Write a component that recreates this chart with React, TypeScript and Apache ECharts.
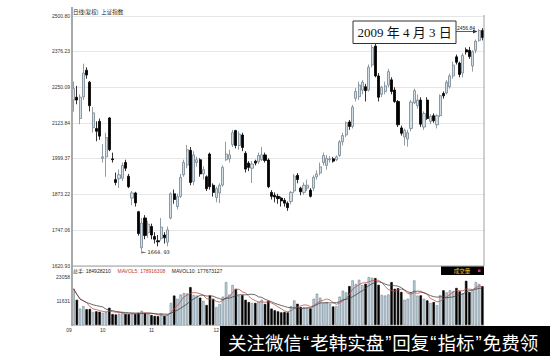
import React, { useEffect, useRef } from "react";
import * as echarts from "echarts";

const dates = (
  "09-23 09-24 09-25 09-26 " +
  "10-06 10-07 10-08 10-09 10-10 10-13 10-14 10-15 10-16 10-17 10-20 10-21 10-22 10-23 10-24 10-27 10-28 10-29 10-30 10-31 " +
  "11-03 11-04 11-05 11-06 11-07 11-10 11-11 11-12 11-13 11-14 11-17 11-18 11-19 11-20 11-21 11-24 11-25 11-26 11-27 11-28 " +
  "12-01 12-02 12-03 12-04 12-05 12-08 12-09 12-10 12-11 12-12 12-15 12-16 12-17 12-18 12-19 12-22 12-23 12-24 12-25 12-26 12-29 12-30 12-31 " +
  "01-05 01-06 01-07 01-08 01-09 01-12 01-13 01-14 01-15 01-16 01-19 01-20 01-21 01-22 01-23 " +
  "02-02 02-03 02-04 02-05 02-06 02-09 02-10 02-11 02-12 02-13 02-16 02-17 02-18 02-19 02-20 02-23 02-24 02-25 02-26 02-27 " +
  "03-02 03-03 03-04 03-05 03-06 03-09 03-10 03-11 03-12 03-13 03-16 03-17 03-18 03-19 03-20 03-23 03-24 03-25 03-26 03-27 03-30 03-31 " +
  "04-01 04-02 04-03"
).split(" ");

const openP = [
  2205, 2215, 2140, 2216, 2310, 2268, 2108, 2105, 2130, 2000,
  2005, 2142, 1998, 1925, 1928, 1930, 1985, 1937, 1860, 1878,
  1812, 1685, 1790, 1738, 1760, 1725, 1710, 1718, 1730, 1705,
  1790, 1875, 1830, 1866, 1942, 1976, 2028, 1918, 1985, 1995,
  1945, 1935, 2015, 1905, 1862, 1878, 1906, 1995, 1998, 2048,
  2098, 2045, 2082, 2018, 1983, 1965, 1990, 1988, 1995, 2012,
  1994, 1880, 1870, 1866, 1860, 1852, 1842, 1848, 1885, 1940,
  1895, 1880, 1895, 1888, 1895, 1935, 1948, 1985, 1975, 1995,
  1998, 1995, 2010, 2058, 2082, 2128, 2112, 2211, 2217, 2240,
  2252, 2240, 2328, 2395, 2290, 2225, 2235, 2258, 2276, 2240,
  2200, 2107, 2075, 2068, 2105, 2195, 2185, 2205, 2110, 2205,
  2130, 2150, 2118, 2150, 2228, 2230, 2252, 2290, 2357, 2335,
  2300, 2382, 2380, 2325, 2380, 2415, 2450,
];
const closeP = [
  2246, 2205, 2215, 2300, 2293, 2185, 2160, 2095, 2078, 2005,
  2073, 2030, 1995, 1915, 1942, 1975, 1965, 1900, 1878, 1843,
  1735, 1772, 1728, 1768, 1730, 1715, 1706, 1758, 1720, 1748,
  1875, 1855, 1865, 1933, 1985, 2030, 1915, 2012, 1995, 1945,
  1960, 1893, 1900, 1880, 1893, 1905, 1968, 2015, 2012, 2090,
  2045, 2085, 2038, 1962, 1968, 1980, 1983, 2010, 2012, 1992,
  1900, 1866, 1864, 1858, 1850, 1842, 1826, 1880, 1937, 1925,
  1882, 1905, 1905, 1866, 1933, 1945, 1970, 2010, 2000, 1998,
  1990, 2005, 2058, 2080, 2125, 2112, 2180, 2235, 2258, 2268,
  2238, 2320, 2390, 2290, 2215, 2250, 2255, 2305, 2235, 2200,
  2118, 2088, 2098, 2090, 2198, 2238, 2205, 2120, 2158, 2140,
  2148, 2132, 2150, 2220, 2220, 2268, 2290, 2328, 2338, 2295,
  2362, 2374, 2358, 2375, 2412, 2450, 2425,
];
const lowP = [
  2164, 2190, 2120, 2205, 2280, 2165, 2090, 2060, 2065, 1985,
  1935, 2025, 1985, 1905, 1895, 1920, 1955, 1895, 1835, 1830,
  1728, 1664.93, 1715, 1720, 1715, 1700, 1690, 1710, 1700, 1690,
  1785, 1840, 1820, 1860, 1935, 1965, 1905, 1905, 1970, 1935,
  1925, 1885, 1890, 1865, 1845, 1842, 1900, 1990, 1985, 2040,
  2035, 2030, 2025, 1950, 1955, 1913, 1975, 1980, 1990, 1985,
  1895, 1855, 1845, 1840, 1830, 1830, 1815, 1838, 1878, 1912,
  1870, 1872, 1885, 1862, 1885, 1925, 1940, 1975, 1960, 1985,
  1985, 1990, 2005, 2045, 2075, 2100, 2105, 2200, 2205, 2225,
  2200, 2235, 2320, 2285, 2200, 2215, 2225, 2250, 2225, 2195,
  2110, 2080, 2045, 2041, 2095, 2190, 2175, 2110, 2100, 2135,
  2120, 2125, 2105, 2145, 2210, 2225, 2245, 2280, 2330, 2285,
  2285, 2365, 2350, 2305, 2370, 2410, 2415,
];
const highP = [
  2270, 2255, 2225, 2333, 2320, 2272, 2180, 2130, 2140, 2050,
  2090, 2145, 2020, 1950, 1960, 1985, 1995, 1945, 1885, 1882,
  1815, 1790, 1800, 1780, 1770, 1740, 1730, 1790, 1740, 1760,
  1880, 1890, 1875, 1945, 1995, 2047, 2040, 2025, 2005, 2000,
  1972, 1940, 2020, 1912, 1900, 1912, 1975, 2058, 2030, 2100,
  2100, 2095, 2090, 2025, 1990, 1990, 1995, 2020, 2040, 2020,
  2000, 1888, 1880, 1875, 1865, 1860, 1848, 1885, 1945, 1948,
  1900, 1915, 1925, 1895, 1940, 1958, 1985, 2020, 2012, 2008,
  2005, 2010, 2064, 2090, 2130, 2135, 2188, 2247, 2270, 2275,
  2262, 2330, 2400, 2402, 2300, 2255, 2270, 2315, 2285, 2250,
  2205, 2115, 2105, 2100, 2205, 2245, 2225, 2215, 2165, 2215,
  2155, 2158, 2155, 2225, 2235, 2275, 2298, 2340, 2365, 2340,
  2370, 2390, 2392, 2380, 2418, 2455, 2458,
];
const volume = [
  17200, 12000, 7800, 9000, 7500, 7600, 6200, 6500, 6300, 5800,
  6200, 8200, 5200, 5000, 5400, 5600, 5300, 5200, 5400, 5300,
  5800, 6800, 5600, 5300, 4750, 4300, 4200, 5400, 4300, 5000,
  10500, 14000, 12500, 14500, 15200, 15000, 18000, 14300, 14000, 13000,
  11500, 9500, 14000, 12500, 8500, 10000, 13500, 20400, 14500, 19000,
  17200, 14000, 14200, 12000, 10900, 10500, 10500, 11000, 12000, 10000,
  11500, 7800, 7000, 6500, 6000, 6200, 6000, 9000, 11700, 10100,
  8500, 8500, 8400, 7900, 12500, 14900, 13000, 10500, 11000, 10000,
  8800, 9000, 13500, 16300, 15500, 18500, 21200, 19500, 21500, 19000,
  19600, 22800, 22500, 22300, 19100, 14300, 14000, 14500, 20400, 17200,
  17500, 15700, 12000, 12500, 15500, 21200, 14000, 14100, 12500, 11700,
  10500, 10900, 9400, 14200, 16500, 15500, 16500, 16000, 17600, 16000,
  15000, 21000, 15700, 16500, 20400, 19500, 18493,
];

const priceTicks = [1620.93, 1747.06, 1873.22, 1999.37, 2123.84, 2250.09, 2376.23, 2500.8];
const volumeTicks = [11631, 23058];
const monthTickIndex = [0, 9, 24, 44];
const monthTickLabels = ["09", "10", "11", "12"];
const lowIndex = 21;
const lowValue = 1664.93;
const titleText = "日线(复权)  上证指数";
const annotationText = "2009 年 4 月 3 日";
const lastHighText = "2456.84";
const totalVolText = "184928210";
const ma5Text = "178916308";
const ma10Text = "177673127";
const bannerParts = ["关注微信", "“", "老韩实盘", "”", "回复", "“", "指标", "”", "免费领"];

function movingAvg(arr: number[], n: number) {
  return arr.map((_, i) => {
    const s = Math.max(0, i - n + 1);
    let sum = 0;
    for (let k = s; k <= i; k++) sum += arr[k];
    return Math.round(sum / (i - s + 1));
  });
}

const FONT = "Liberation Sans, Arial, Noto Sans CJK SC, sans-serif";

export default function App() {
  const ref = useRef<HTMLDivElement>(null);
  useEffect(() => {
    if (!ref.current) return;
    const chart = echarts.init(ref.current, undefined, { renderer: "svg" });
    const kData = dates.map((_, i) => [openP[i], closeP[i], lowP[i], highP[i]]);
    const volData = volume.map((v, i) => {
      const up = closeP[i] >= openP[i];
      return {
        value: v,
        itemStyle: up
          ? { color: "#c2d5e0", borderColor: "#6f808b", borderWidth: 0.6 }
          : { color: "#000", borderColor: "#000", borderWidth: 0.6 },
      };
    });
    const ma5 = movingAvg(volume, 5);
    const ma10 = movingAvg(volume, 10);
    const bannerRich = bannerParts
      .map((p) => (p === "“" || p === "”" ? "{q|" + p + "}" : "{c|" + p + "}"))
      .join("");

    chart.setOption({
      animation: false,
      backgroundColor: "#fff",
      textStyle: { fontFamily: FONT },
      grid: [
        { left: 72, right: 66, top: 16, height: 250 },
        { left: 72, right: 66, top: 276.5, height: 48.5 },
      ],
      xAxis: [
        {
          type: "category",
          gridIndex: 0,
          data: dates,
          boundaryGap: true,
          axisLine: { show: false },
          axisTick: { show: false },
          axisLabel: { show: false },
          splitLine: { show: false },
        },
        {
          type: "category",
          gridIndex: 1,
          data: dates,
          boundaryGap: true,
          axisLine: { show: true, lineStyle: { color: "#c8c8c8", width: 1 } },
          axisTick: { show: false },
          splitLine: { show: false },
          axisLabel: {
            interval: (i: number) => monthTickIndex.includes(i),
            formatter: (_v: string, i: number) => {
              const k = monthTickIndex.indexOf(i);
              if (k < 0) return "";
              return k === 0 ? "{a|" + monthTickLabels[k] + "}" : monthTickLabels[k];
            },
            rich: { a: { fontSize: 5, color: "#333", padding: [0, 9, 0, 0], fontFamily: FONT } },
            fontSize: 5,
            color: "#333",
            margin: 2,
            fontFamily: FONT,
          },
        },
      ],
      yAxis: [
        {
          type: "value",
          gridIndex: 0,
          min: 1620.93,
          max: 2500.8,
          axisLine: { show: false },
          axisTick: { show: false, customValues: priceTicks },
          splitLine: { show: true, lineStyle: { color: "#e6e6e6", width: 1 } },
          axisLabel: {
            customValues: priceTicks,
            formatter: (v: number) => v.toFixed(2),
            fontSize: 5,
            color: "#333",
            margin: 2,
            fontFamily: FONT,
          },
        },
        {
          type: "value",
          gridIndex: 1,
          min: 0,
          max: 23058,
          axisLine: { show: false },
          axisTick: { show: false, customValues: volumeTicks },
          splitLine: { show: false },
          axisLabel: {
            customValues: volumeTicks,
            formatter: (v: number) => String(v),
            fontSize: 5,
            color: "#333",
            margin: 2,
            fontFamily: FONT,
          },
        },
      ],
      series: [
        {
          type: "candlestick",
          xAxisIndex: 0,
          yAxisIndex: 0,
          data: kData,
          barWidth: 2.6,
          itemStyle: {
            color: "#d3e0e8",
            color0: "#000",
            borderColor: "#76848e",
            borderColor0: "#000",
            borderWidth: 0.8,
          },
          markPoint: {
            symbol: "circle",
            symbolSize: 0,
            silent: true,
            data: [{ coord: [lowIndex, lowValue] }],
            label: {
              show: true,
              position: "right",
              distance: 0,
              offset: [0, -1],
              formatter: "← " + lowValue.toFixed(2).replace(".", ". "),
              fontSize: 5,
              color: "#222",
              fontFamily: "DejaVu Sans, " + FONT,
            },
          },
        },
        {
          type: "bar",
          xAxisIndex: 1,
          yAxisIndex: 1,
          data: volData,
          barWidth: 2.4,
        },
        {
          type: "line",
          xAxisIndex: 1,
          yAxisIndex: 1,
          data: ma5,
          showSymbol: false,
          z: 5,
          lineStyle: { color: "#c0504d", width: 0.8 },
        },
        {
          type: "line",
          xAxisIndex: 1,
          yAxisIndex: 1,
          data: ma10,
          showSymbol: false,
          z: 5,
          lineStyle: { color: "#444", width: 0.8 },
        },
      ],
      graphic: [
        { type: "line", z: 50, shape: { x1: 72, y1: 7, x2: 72, y2: 326 }, style: { stroke: "#a9a9a9", lineWidth: 2 } },
        { type: "line", z: 50, shape: { x1: 484, y1: 15, x2: 484, y2: 266 }, style: { stroke: "#a0a0a0", lineWidth: 1 } },
        { type: "line", z: 50, shape: { x1: 72, y1: 266, x2: 484, y2: 266 }, style: { stroke: "#a0a0a0", lineWidth: 1 } },
        {
          type: "text",
          z: 50,
          x: 73,
          y: 12,
          style: { text: titleText, fontSize: 5.5, fill: "#222", verticalAlign: "middle", fontFamily: "Noto Sans CJK SC" },
        },
        {
          type: "text",
          z: 50,
          x: 73,
          y: 270.5,
          style: {
            text: "{k|总手: " + totalVolText + "}  {r|MAVOL5: " + ma5Text + "}  {k|MAVOL10: " + ma10Text + "}",
            verticalAlign: "middle",
            rich: {
              k: { fontSize: 5, fill: "#222", fontFamily: FONT },
              r: { fontSize: 5, fill: "#c0392b", fontFamily: FONT },
            },
          },
        },
        { type: "rect", z: 50, shape: { x: 441, y: 266.5, width: 43, height: 8.5 }, style: { fill: "#000" } },
        {
          type: "text",
          z: 51,
          x: 462,
          y: 270.8,
          style: { text: "成交量", fontSize: 5.5, fill: "#e8c830", align: "center", verticalAlign: "middle", fontFamily: "Noto Sans CJK SC" },
        },
        { type: "rect", z: 51, shape: { x: 478, y: 269.5, width: 2.5, height: 2.5 }, style: { fill: "#e0306a" } },
        { type: "rect", z: 60, shape: { x: 353, y: 21, width: 103, height: 22.5 }, style: { fill: "#fff", stroke: "#333", lineWidth: 1 } },
        {
          type: "text",
          z: 61,
          x: 404.5,
          y: 32.5,
          style: {
            text: annotationText,
            fontSize: 13,
            fill: "#111",
            align: "center",
            verticalAlign: "middle",
            fontFamily: "Liberation Serif, Noto Sans CJK SC, serif",
          },
        },
        {
          type: "text",
          z: 61,
          x: 457,
          y: 28.3,
          style: { text: lastHighText, fontSize: 5, fill: "#222", verticalAlign: "middle", fontFamily: FONT },
        },
        { type: "line", z: 61, shape: { x1: 456, y1: 31.5, x2: 474, y2: 31.5 }, style: { stroke: "#333", lineWidth: 0.8 } },
        { type: "polygon", z: 61, shape: { points: [[477.5, 31.5], [473, 29.5], [473, 33.5]] }, style: { fill: "#333" } },
        { type: "rect", z: 100, shape: { x: 220, y: 326, width: 330, height: 30 }, style: { fill: "#000" } },
        {
          type: "text",
          z: 101,
          x: 228,
          y: 342,
          style: {
            text: bannerRich,
            verticalAlign: "middle",
            rich: {
              c: { fontSize: 18.5, fill: "#fff", fontFamily: "Noto Sans CJK SC" },
              q: { fontSize: 18.5, fill: "#fff", fontFamily: "Liberation Sans", padding: [0, 1, 0, 1] },
            },
          },
        },
      ],
    });
    return () => chart.dispose();
  }, []);
  return (
    <div
      ref={ref}
      style={{ position: "fixed", left: 0, top: 0, width: 550, height: 356, background: "#fff" }}
    />
  );
}
